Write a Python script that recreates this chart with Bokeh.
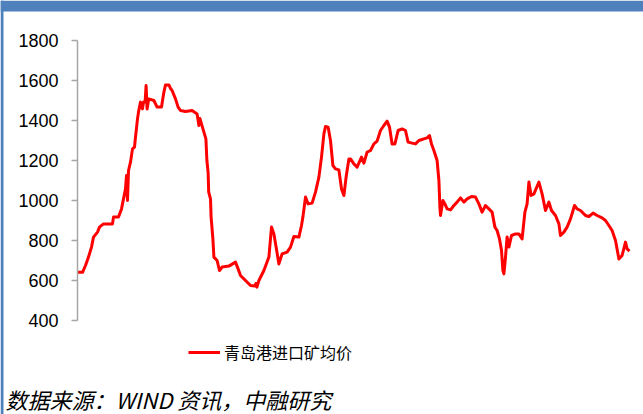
from bokeh.plotting import figure
from bokeh.models import Range1d, FixedTicker, Label, Legend, LegendItem, BoxAnnotation
from bokeh.embed import file_html
from bokeh.resources import INLINE

# ---- data (day index, price) ----
days = [0, 25, 40, 55, 70, 80, 100, 110, 130, 175, 180, 205, 220, 230, 240, 245, 250, 255,
        265, 275, 285, 290, 300, 305, 315, 325, 330, 338, 343, 348, 356, 382, 398, 420, 432,
        440, 457, 465, 473, 490, 503, 515, 540, 573, 598, 607, 612, 620, 632, 642, 647, 653,
        656, 665, 668, 677, 682, 698, 710, 723, 757, 790, 803, 815, 840, 865, 887, 892, 897,
        907, 932, 957, 970, 982, 993, 1007, 1023, 1048, 1065, 1082, 1107, 1120, 1127, 1140,
        1153, 1173, 1190, 1207, 1220, 1232, 1240, 1253, 1265, 1277, 1290, 1307, 1320, 1332,
        1343, 1357, 1365, 1382, 1398, 1420, 1432, 1448, 1465, 1482, 1498, 1515, 1532, 1548,
        1560, 1573, 1587, 1603, 1623, 1640, 1653, 1673, 1690, 1707, 1732, 1748, 1760, 1770,
        1782, 1798, 1807, 1812, 1815, 1827, 1837, 1848, 1865, 1882, 1898, 1915, 1932, 1948,
        1970, 1990, 2007, 2023, 2040, 2057, 2073, 2087, 2098, 2110, 2120, 2127, 2132, 2140,
        2148, 2157, 2170, 2190, 2207, 2223, 2237, 2248, 2257, 2268, 2282, 2307, 2323, 2340,
        2357, 2370, 2390, 2407, 2415, 2432, 2448, 2465, 2485, 2498, 2515, 2540, 2557, 2578,
        2598, 2623, 2640, 2657, 2673, 2690, 2707, 2723, 2740, 2748, 2760]
price = [641, 641, 675, 717, 767, 817, 842, 867, 883, 883, 917, 917, 958, 1008, 1058, 1125,
         1000, 1150, 1192, 1258, 1267, 1317, 1408, 1442, 1492, 1458, 1492, 1492, 1575, 1458,
         1508, 1500, 1467, 1467, 1542, 1578, 1578, 1560, 1550, 1508, 1467, 1450, 1445, 1450,
         1433, 1375, 1410, 1383, 1342, 1308, 1200, 1142, 1042, 1008, 917, 808, 717, 700, 650,
         667, 672, 692, 658, 625, 600, 575, 572, 585, 567, 600, 650, 717, 867, 833, 767, 683,
         733, 742, 767, 820, 817, 875, 917, 1017, 983, 987, 1042, 1117, 1217, 1333, 1370, 1367,
         1300, 1175, 1158, 1153, 1058, 1025, 1117, 1208, 1208, 1183, 1167, 1217, 1187, 1242,
         1250, 1283, 1297, 1350, 1375, 1397, 1367, 1283, 1283, 1350, 1358, 1350, 1292, 1287,
         1283, 1300, 1308, 1313, 1325, 1283, 1250, 1200, 1100, 967, 925, 1000, 983, 958, 953,
         975, 992, 1013, 992, 1008, 1020, 1017, 983, 942, 975, 958, 942, 867, 850, 808, 750,
         650, 633, 717, 817, 767, 825, 833, 833, 808, 942, 983, 1092, 1025, 1033, 1092, 1033,
         950, 992, 950, 925, 883, 825, 842, 867, 908, 975, 958, 950, 925, 920, 937, 925, 913,
         900, 875, 850, 800, 708, 725, 792, 758, 747]
y_ticks = [400, 600, 800, 1000, 1200, 1400, 1600, 1800]
series_name = "青岛港进口矿均价"
source_text = "数据来源：WIND 资讯，中融研究"

BLUE = "#4F81BD"
W, H = 643, 414
# pixel geometry of the plotting area
LEFT_PX, TOP_PX, BOTTOM_PX, RIGHT_PX = 77, 40, 320, 629
YMIN, YMAX = 400, 1800
ypp = (YMAX - YMIN) / (BOTTOM_PX - TOP_PX)          # value per pixel
xpp = (days[-1] - days[0]) / (RIGHT_PX - LEFT_PX)   # day per pixel
x0 = days[0] - LEFT_PX * xpp
x1 = days[-1] + (W - RIGHT_PX) * xpp
y1 = YMAX + TOP_PX * ypp
y0 = YMIN - (H - BOTTOM_PX) * ypp

def xd(px):
    return x0 + px * xpp

def yd(py):
    return y1 - py * ypp

p = figure(width=W, height=H, output_backend="svg", toolbar_location=None,
           x_range=Range1d(x0, x1), y_range=Range1d(y0, y1),
           x_axis_location=None, y_axis_location="left",
           min_border=0, min_border_left=0, min_border_right=0,
           min_border_top=0, min_border_bottom=0)
p.styles = {"position": "absolute", "left": "0px", "top": "0px"}
p.border_fill_color = "#FFFFFF"
p.background_fill_color = "#FFFFFF"
p.outline_line_color = None
p.xgrid.visible = False
p.ygrid.visible = False

# blue frame of the original picture (top bar and left edge)
p.add_layout(BoxAnnotation(bottom=yd(11), fill_color=BLUE, fill_alpha=1, line_color=None))
p.add_layout(BoxAnnotation(right=xd(3), fill_color=BLUE, fill_alpha=1, line_color=None))

ax = p.yaxis[0]
ax.fixed_location = days[0]
ax.bounds = (YMIN, YMAX)
ax.ticker = FixedTicker(ticks=y_ticks)
ax.axis_line_color = "#A6A6A6"
ax.axis_line_width = 1.5
ax.major_tick_line_color = "#A6A6A6"
ax.major_tick_line_width = 1.5
ax.major_tick_out = 6
ax.major_tick_in = 0
ax.minor_tick_line_color = None
ax.major_label_text_font = "Liberation Sans"
ax.major_label_text_font_size = "18px"
ax.major_label_text_color = "#000000"
ax.major_label_standoff = 13

r = p.line(days, price, line_color="#FF0000", line_width=3, line_join="round")

legend = Legend(items=[LegendItem(label=series_name, renderers=[r])],
                location=(188, H - 364), orientation="horizontal",
                padding=0, margin=0, spacing=0, border_line_color=None,
                background_fill_alpha=0, glyph_width=32, glyph_height=20,
                label_height=20, label_standoff=4,
                label_text_font="Noto Sans CJK SC", label_text_font_size="16px",
                label_text_color="#000000")
p.add_layout(legend, "center")

src = Label(x=xd(5), y=yd(398), text=source_text,
            text_font="Noto Sans CJK SC", text_font_size="22px",
            text_font_style="italic", text_color="#000000",
            text_align="left", text_baseline="middle")
p.add_layout(src)

open("out.html", "w").write(file_html(p, INLINE))
